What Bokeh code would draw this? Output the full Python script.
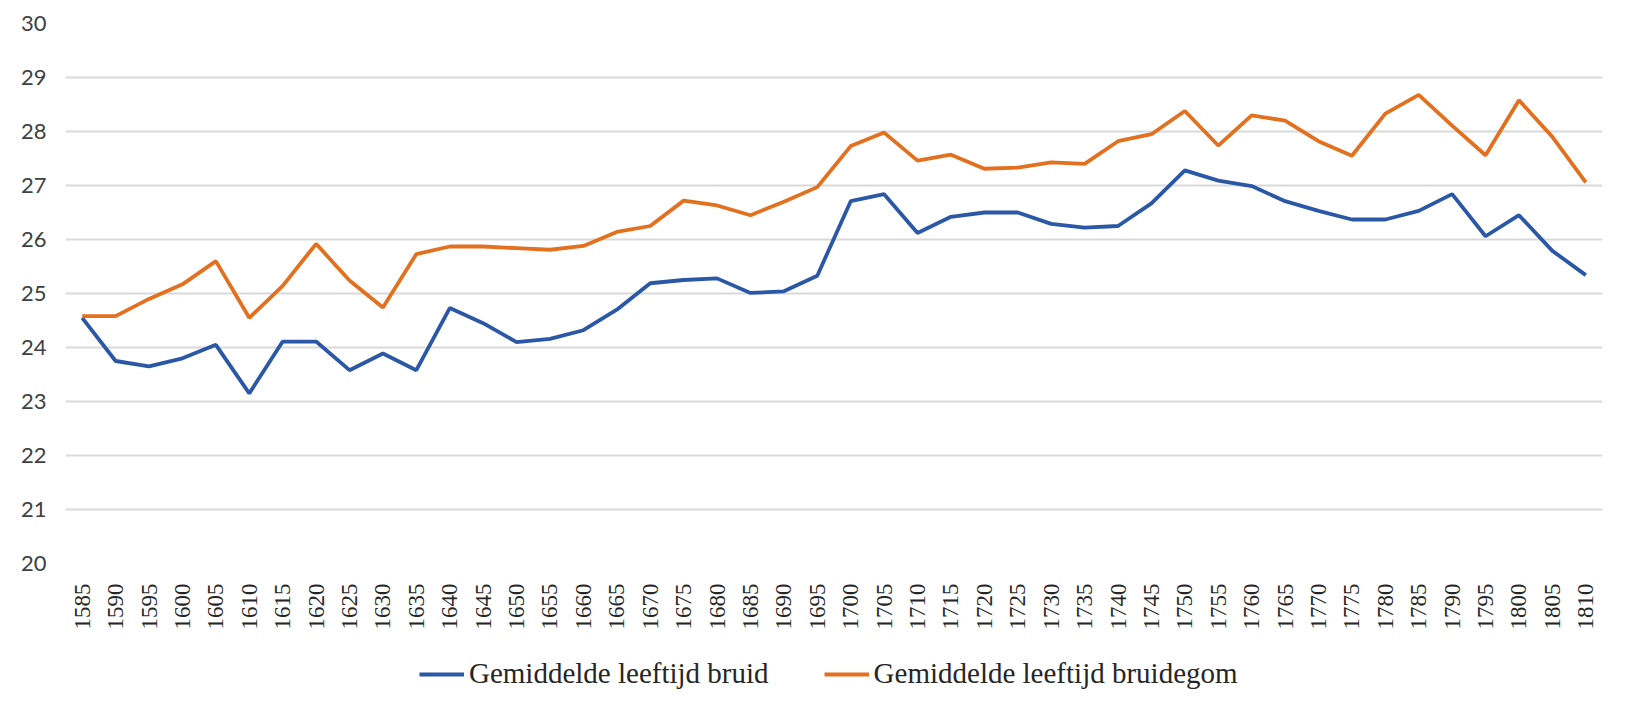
import math
from bokeh.plotting import figure
from bokeh.layouts import column
from bokeh.models import Legend, LegendItem, FactorRange, FixedTicker, ColumnDataSource
from bokeh.embed import file_html
from bokeh.resources import INLINE

years = ["1585", "1590", "1595", "1600", "1605", "1610", "1615", "1620", "1625", "1630",
         "1635", "1640", "1645", "1650", "1655", "1660", "1665", "1670", "1675", "1680",
         "1685", "1690", "1695", "1700", "1705", "1710", "1715", "1720", "1725", "1730",
         "1735", "1740", "1745", "1750", "1755", "1760", "1765", "1770", "1775", "1780",
         "1785", "1790", "1795", "1800", "1805", "1810"]

bruid = [24.55, 23.75, 23.65, 23.80, 24.05, 23.15, 24.11, 24.11, 23.58, 23.89,
         23.58, 24.73, 24.45, 24.10, 24.16, 24.32, 24.70, 25.19, 25.25, 25.28,
         25.01, 25.04, 25.33, 26.71, 26.84, 26.12, 26.42, 26.50, 26.50, 26.29,
         26.22, 26.25, 26.67, 27.28, 27.09, 26.99, 26.71, 26.53, 26.37, 26.37,
         26.53, 26.84, 26.06, 26.45, 25.79, 25.34]

bruidegom = [24.58, 24.58, 24.90, 25.17, 25.60, 24.55, 25.14, 25.92, 25.24, 24.74,
             25.73, 25.87, 25.87, 25.84, 25.81, 25.88, 26.14, 26.25, 26.72, 26.63,
             26.45, 26.70, 26.97, 27.73, 27.98, 27.46, 27.57, 27.31, 27.33, 27.43,
             27.40, 27.82, 27.95, 28.38, 27.74, 28.30, 28.20, 27.82, 27.55, 28.33,
             28.68, 28.11, 27.56, 28.58, 27.90, 27.06]

y_ticks = [20, 21, 22, 23, 24, 25, 26, 27, 28, 29, 30]

label_bruid = "Gemiddelde leeftijd bruid"
label_bruidegom = "Gemiddelde leeftijd bruidegom"

color_bruid = "#2B57A7"
color_bruidegom = "#E2701E"

src = ColumnDataSource(dict(year=years, bruid=bruid, bruidegom=bruidegom))

p = figure(
    width=1622, height=640,
    x_range=FactorRange(*years, range_padding=0),
    y_range=(20, 30),
    output_backend="svg",
    toolbar_location=None,
    min_border_left=65, min_border_right=20, min_border_top=23, min_border_bottom=77,
)
p.background_fill_color = "white"
p.border_fill_color = "white"
p.outline_line_color = None

p.line("year", "bruid", source=src, line_color=color_bruid, line_width=3.8)
p.line("year", "bruidegom", source=src, line_color=color_bruidegom, line_width=3.8)

p.xgrid.grid_line_color = None
p.ygrid.grid_line_color = "#D9D9D9"
p.ygrid.grid_line_width = 2
p.yaxis.ticker = FixedTicker(ticks=y_ticks)

for ax in (p.xaxis, p.yaxis):
    ax.axis_line_color = None
    ax.major_tick_line_color = None
    ax.minor_tick_line_color = None

p.yaxis.major_label_text_font = "Lato"
p.yaxis.major_label_text_font_size = "22px"
p.yaxis.major_label_text_color = "#404040"
p.yaxis.major_label_standoff = 13

p.xaxis.major_label_orientation = math.pi / 2
p.xaxis.major_label_text_font = "Liberation Serif"
p.xaxis.major_label_text_font_size = "23px"
p.xaxis.major_label_text_color = "#262626"
p.xaxis.major_label_standoff = 14

# Legend strip (separate figure so the legend is not clipped)
lg = figure(
    width=1622, height=55,
    x_range=(0, 1), y_range=(0, 1),
    output_backend="svg",
    toolbar_location=None,
    min_border=0,
)
lg.axis.visible = False
lg.grid.visible = False
lg.outline_line_color = None
lg.background_fill_color = "white"
lg.border_fill_color = "white"

nan = float("nan")
d1 = lg.line(x=[nan], y=[nan], line_color=color_bruid, line_width=3.8)
d2 = lg.line(x=[nan], y=[nan], line_color=color_bruidegom, line_width=3.8)

legend = Legend(
    items=[LegendItem(label=label_bruid, renderers=[d1]),
           LegendItem(label=label_bruidegom, renderers=[d2])],
    orientation="horizontal",
    location=(354, 5),
    label_text_font="Liberation Serif",
    label_text_font_size="29px",
    label_text_color="#262626",
    glyph_width=45,
    label_standoff=5,
    spacing=55,
    border_line_color=None,
    background_fill_alpha=0,
    margin=0,
    padding=4,
)
lg.add_layout(legend, "center")

layout = column(p, lg, spacing=0)

open("out.html", "w").write(file_html(layout, INLINE))
